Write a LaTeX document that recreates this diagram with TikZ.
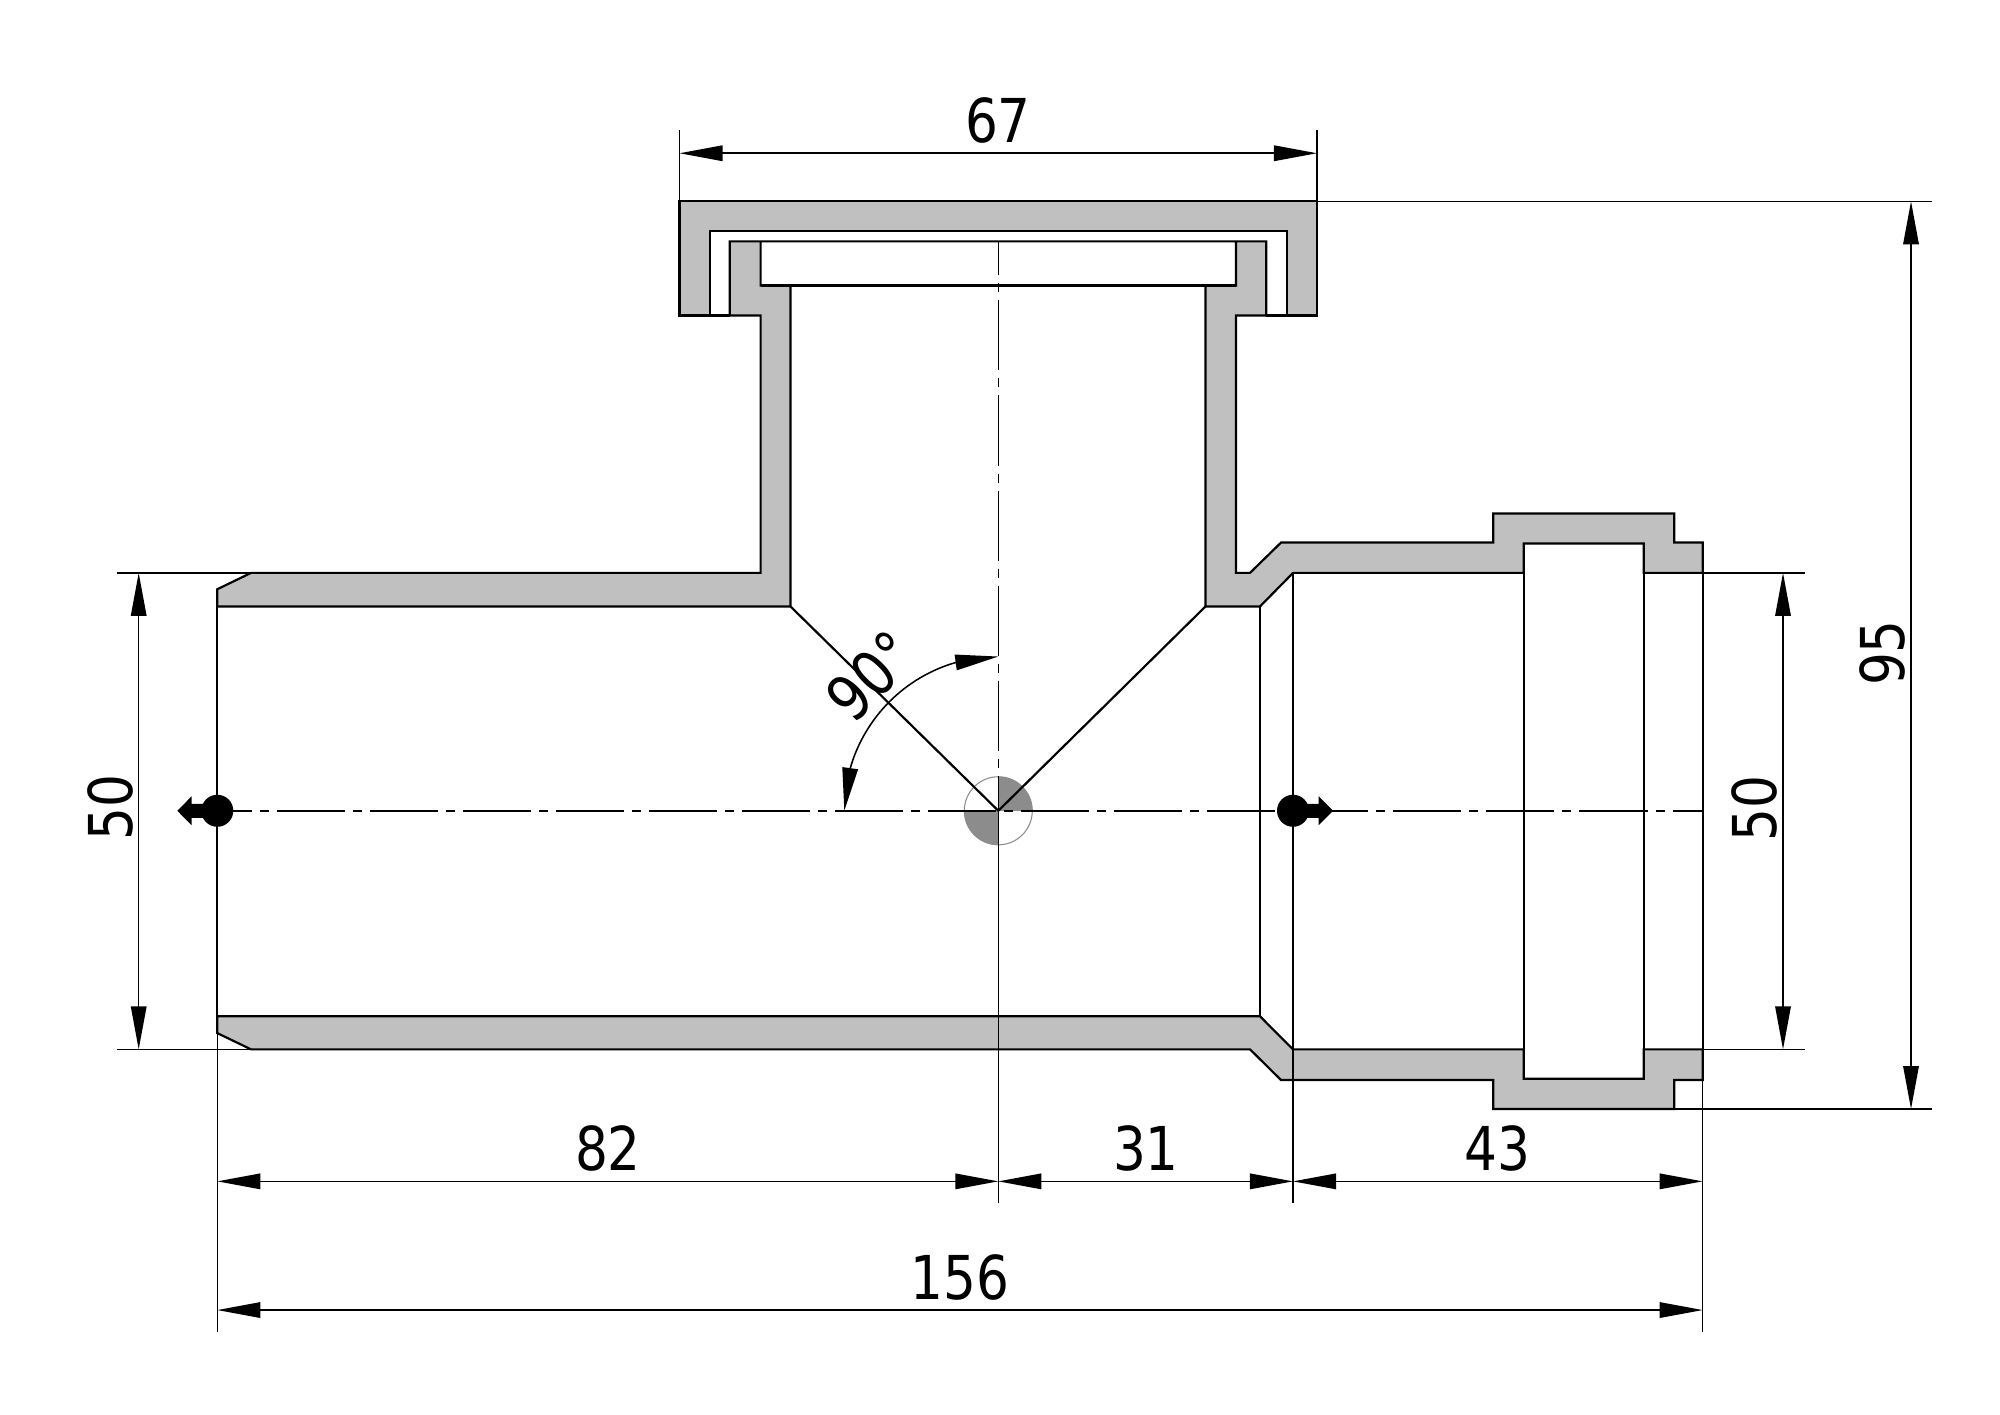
\documentclass[tikz,border=0pt]{standalone}
\usepackage{fontspec}
\setmainfont[FakeStretch=0.95]{DejaVu Sans Condensed}
\usetikzlibrary{arrows.meta,bending}
\definecolor{wall}{HTML}{C0C0C0}
\definecolor{quadrant}{HTML}{8C8C8C}
\tikzset{
    body/.style={draw=black, line width=0.62pt, line join=miter},
    wallpart/.style={body, fill=wall},
    thin line/.style={draw=black, line width=0.44pt},
    dimline/.style={thin line, {Triangle[length=4.3mm,width=1.55mm,flex]}-{Triangle[length=4.3mm,width=1.55mm,flex]}},
    axish/.style={thin line, dash pattern=on 0.68cm off 0.08cm on 0.09cm off 0.08cm, dash phase=0.336cm},
    axisv/.style={thin line, dash pattern=on 0.70cm off 0.08cm on 0.09cm off 0.08cm, dash phase=0.36cm},
    dimtext/.style={inner sep=0pt, font=\fontsize{17.2}{20}\selectfont},
}

\begin{document}
\begin{tikzpicture}[x=0.01cm, y=-0.010012cm]
    \useasboundingbox (0,0) rectangle (2000,1412.3);
    % named points
    \coordinate (c) at (998.3,809.5);
    \coordinate (le) at (217.3,809.5);
    \coordinate (re) at (1702.7,809.5);
    \coordinate (s) at (1293,809.5);
    \coordinate (ctop) at (998.3,241);
    \coordinate (cbot) at (998.3,1201);
    % upper wall
    \draw [wallpart] (217.3,605.5) -- (217.3,588.3) -- (251,572) -- (760.6,572) -- (760.6,315) -- (729.8,315) -- (729.8,241)
        -- (1266.2,241) -- (1266.2,315) -- (1235.9,315) -- (1235.9,572) -- (1250,572) -- (1281,541.7) -- (1493.3,541.7)
        -- (1493.3,512.7) -- (1674.3,512.7) -- (1674.3,541.7) -- (1702.7,541.7) -- (1702.7,572) -- (1643.7,572) -- (1643.7,542.7)
        -- (1523.7,542.7) -- (1523.7,572) -- (1293,572) -- (1260,605.5) -- (1205.5,605.5) -- (1205.5,285) -- (1235.9,285)
        -- (1235.9,241) -- (760.6,241) -- (760.6,285) -- (790.5,285) -- (790.5,605.5) -- cycle;
    % lower wall
    \draw [wallpart] (217.3,1014.7) -- (217.3,1031.5) -- (251,1047.7) -- (1250,1047.7) -- (1281,1078.3) -- (1493.3,1078.3)
        -- (1493.3,1107.3) -- (1674.3,1107.3) -- (1674.3,1078.3) -- (1702.7,1078.3) -- (1702.7,1047.7) -- (1643.7,1047.7)
        -- (1643.7,1077) -- (1523.7,1077) -- (1523.7,1047.7) -- (1293,1047.7) -- (1260,1014.7) -- cycle;
    % cap
    \draw [wallpart] (679.5,201) -- (1317,201) -- (1317,315) -- (1286.6,315) -- (1286.6,231) -- (709.9,231) -- (709.9,315) -- (679.5,315) -- cycle;
    \draw [body] (709.9,315) -- (729.8,315);
    \draw [body] (1266.2,315) -- (1286.6,315);
    \draw [body] (760.6,285) -- (1235.9,285);
    % inner edges
    \draw [body] (217.3,605.5) -- (217.3,1014.7);
    \draw [body] (1260,605.5) -- (1260,1014.7);
    \draw [body] (1293,572) -- (1293,1047.7);
    \draw [body] (1523.7,572) -- (1523.7,1047.7);
    \draw [body] (1643.7,572) -- (1643.7,1047.7);
    \draw [body] (1702.7,572) -- (1702.7,1047.7);
    % centre mark
    \fill [quadrant] (c) -- ++(0,-34) arc [start angle=270, end angle=360, radius=34] -- cycle;
    \fill [quadrant] (c) -- ++(0,34) arc [start angle=90, end angle=180, radius=34] -- cycle;
    \draw [draw=quadrant, line width=0.3pt] (c) circle (34);
    \draw [body] (790.5,605.5) -- (c);
    \draw [body] (1205.5,605.5) -- (c);
    % axes
    \draw [axish] (le) -- (re);
    \draw [axisv] (ctop) -- (c);
    \draw [thin line] (c) -- (cbot);
    % end marks
    \fill (le) circle (16);
    \fill (s) circle (16);
    \fill (217.3,802.5) -- (191.7,802.5) -- (191.7,795) -- (177.3,809.5) -- (191.7,824) -- (191.7,816.5) -- (217.3,816.5) -- cycle;
    \fill (1293,802.5) -- (1318.6,802.5) -- (1318.6,795) -- (1333,809.5) -- (1318.6,824) -- (1318.6,816.5) -- (1293,816.5) -- cycle;
    % extension lines
    \coordinate (a1) at (679.5,130);
    \coordinate (a2) at (1317,130);
    \coordinate (a3) at (679.5,153);
    \coordinate (a4) at (1317,153);
    \draw [thin line] (a1) -- (679.5,201);
    \draw [thin line] (a2) -- (1317,201);
    \draw [thin line] (1317,201) -- (1932,201);
    \draw [thin line] (1674.3,1107.3) -- (1932,1107.3);
    \draw [thin line] (116.7,572) -- (251,572);
    \draw [thin line] (116.7,1047.7) -- (251,1047.7);
    \draw [thin line] (1702.7,572) -- (1805,572);
    \draw [thin line] (1702.7,1047.7) -- (1805,1047.7);
    \draw [thin line] (217.3,1031.5) -- (217.3,1330);
    \draw [thin line] (1702.7,1047.7) -- (1702.7,1330);
    \draw [thin line] (1293,1047.7) -- (1293,1201);
    % dimensions
    \coordinate (d1) at (138.7,572);
    \coordinate (d2) at (138.7,1047.7);
    \coordinate (d3) at (1783,572);
    \coordinate (d4) at (1783,1047.7);
    \coordinate (d5) at (1911,201);
    \coordinate (d6) at (1911,1107.3);
    \coordinate (d7) at (217.3,1179.5);
    \coordinate (d8) at (998.3,1179.5);
    \coordinate (d9) at (1293,1179.5);
    \coordinate (d10) at (1702.7,1179.5);
    \coordinate (d11) at (217.3,1308);
    \coordinate (d12) at (1702.7,1308);
    \draw [dimline] (a3) -- (a4);
    \draw [dimline] (d1) -- (d2);
    \draw [dimline] (d3) -- (d4);
    \draw [dimline] (d5) -- (d6);
    \draw [dimline] (d7) -- (d8);
    \draw [dimline] (d8) -- (d9);
    \draw [dimline] (d9) -- (d10);
    \draw [dimline] (d11) -- (d12);
    \draw [dimline] (844.3,809.5) arc [start angle=180, end angle=270, radius=154];
    % labels
    \node [dimtext] (t67) at (998,120.5) {67};
    \node [dimtext, rotate=90] (t95) at (1882,652) {95};
    \node [dimtext, rotate=90] (t50r) at (1754,807) {50};
    \node [dimtext, rotate=90] (t50l) at (110,806) {50};
    \node [dimtext] (t82) at (608,1147) {82};
    \node [dimtext] (t31) at (1146,1147) {31};
    \node [dimtext] (t43) at (1497,1147) {43};
    \node [dimtext] (t156) at (960,1275) {156};
    \node [dimtext, rotate=45, font=\fontsize{17.8}{20}\selectfont] (t90) at (871,675) {90°};
\end{tikzpicture}
\end{document}
